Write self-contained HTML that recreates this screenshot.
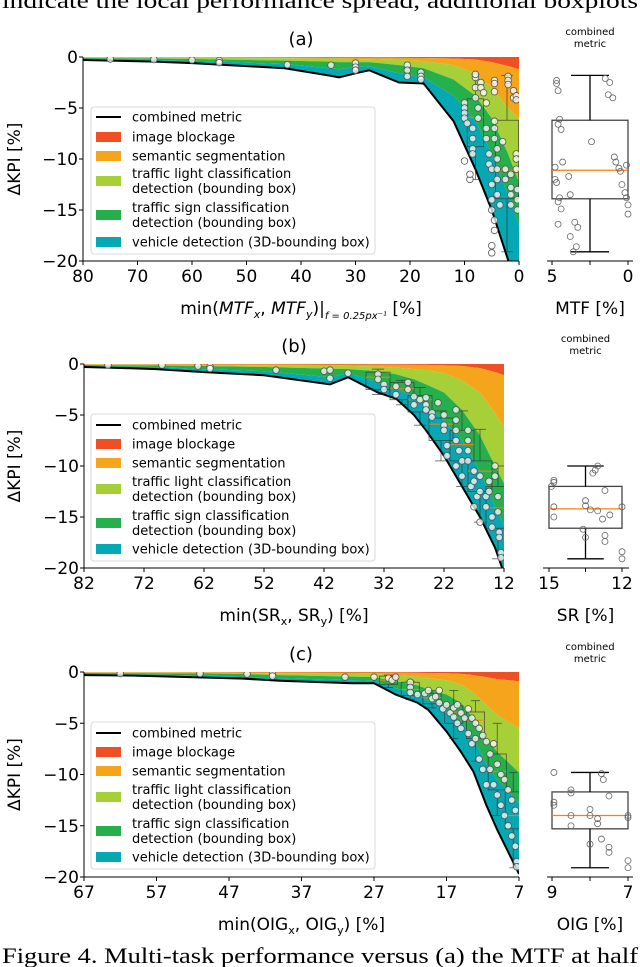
<!DOCTYPE html>
<html><head><meta charset="utf-8">
<style>
html,body{margin:0;padding:0;background:#fff;}
svg{display:block;font-family:"DejaVu Sans","Liberation Sans",sans-serif;}
</style></head>
<body>
<svg id="fig" width="640" height="967" viewBox="0 0 640 967" xmlns="http://www.w3.org/2000/svg">
<text x="2" y="8" font-family="Liberation Serif, serif" font-size="22" textLength="636" lengthAdjust="spacingAndGlyphs">indicate the local performance spread, additional boxplots</text>
<text x="2" y="963" font-family="Liberation Serif, serif" font-size="22" textLength="636" lengthAdjust="spacingAndGlyphs">Figure 4.  Multi-task performance versus (a) the MTF at half</text>
</svg>
<script>
// ---------- Panel A data ----------
const aX = [80,75,67,60,55,43,35,33,30,27.5,22,17.5,12,8,5,2,0];
const aBlock = [-0.02,-0.02,-0.03,-0.03,-0.03,-0.04,-0.05,-0.05,-0.05,-0.05,-0.08,-0.1,-0.15,-0.25,-0.5,-0.9,-1.2];
const aSeg = [-0.06,-0.06,-0.07,-0.08,-0.09,-0.12,-0.15,-0.17,-0.2,-0.22,-0.3,-0.4,-0.8,-1.6,-3,-5,-6.1];
const aLight = [-0.1,-0.12,-0.15,-0.2,-0.25,-0.35,-0.45,-0.5,-0.5,-0.5,-0.8,-1.1,-2.2,-3.8,-6,-9.5,-12.3];
const aSign = [-0.2,-0.22,-0.28,-0.35,-0.45,-0.7,-1.1,-1.2,-1.0,-0.9,-1.6,-2,-3.8,-6.2,-9.5,-13.5,-16.5];
const aCombined = [-0.3,-0.35,-0.45,-0.6,-0.75,-1.1,-1.8,-2.0,-1.6,-1.3,-2.5,-2.6,-6.3,-11,-15,-19.9,-23];
const aPtX = [75,67,60,55,55,42.5,34.5,30,30,30,20.5,20.5,20.5,18,18,18,10,10,10,10,9.5,10,9,9,8,8,8,7.5,7.5,8.5,8.5,8.5,8.5,8,7,7,6.5,6,6,6,5.5,5.5,5,5,5,5,4.5,4.5,5,5,4.5,4.5,4.5,4.5,4.5,4.5,4,4,4,4,4,3.5,3,2.5,2.5,2,2,2,1.5,1.5,1.5,1.5,1,1,0.5,0.5,0.5,0.5,0.5,0.3,0.3,0.3];
const aPtY = [-0.2,-0.25,-0.3,-0.35,-0.55,-0.75,-0.8,-0.6,-1.0,-1.3,-0.8,-1.3,-1.9,-1.5,-1.9,-2.2,-4.5,-5,-5.5,-6,-6.5,-10.2,-12,-11.5,-2,-3,-4,-5,-6,-7,-8,-9,-9.5,-1.7,-2.5,-3,-3.5,-4.5,-7,-8,-9.5,-10.5,-11,-12.5,-14,-15,-16,-17,-18.5,-19.2,-2.3,-2.6,-3.4,-6.3,-7,-8,-9,-10,-11,-12,-13.5,-14.5,-8.3,-11,-12,-1.9,-2.3,-2.7,-11.5,-12.8,-13.5,-14.5,-3.3,-4,-3.8,-4.2,-9.5,-10,-11,-13,-14,-15];
const aBoxX = [8,2.2];
const aBoxW = [3,4.2];
const aBoxQ1 = [-8.8,-13.9];
const aBoxMed = [-5.9,-11.1];
const aBoxQ3 = [-4.1,-6.2];
const aBoxLo = [-12,-19.1];
const aBoxHi = [-1.7,-1.8];
const aSumStats = [-1.8,-6.2,-11.1,-13.9,-19.1];
const aSumPtX = [4.7,4.7,4.6,4.5,4.6,4.4,4.3,4.8,4.7,4.5,4.6,4.4,3.8,3.5,3.3,3.4,3.6,3.8,2.4,1.5,1.2,1.0,1.3,0.9,0.8,0.6,0.5,0.4,0.2,0.1,0,0,0.1,4.8,3.9,4.6];
const aSumPtY = [-2.3,-2.6,-3.3,-6.1,-6.6,-7.1,-10.3,-10.8,-12.3,-13.8,-14.2,-14.9,-13.5,-16.2,-16.7,-18.6,-19.1,-17.6,-8.3,-2.1,-2.5,-4,-3.7,-9.8,-10.3,-10.9,-11.2,-12.5,-13.3,-13.8,-14.5,-15.4,-10.6,-12,-11.7,-16.4];

// ---------- Panel B data ----------
const bX = [82,78,70,62,52,41,38,33,30,27,25,22,19,16,13.5,12];
const bBlock = [-0.03,-0.03,-0.03,-0.04,-0.04,-0.05,-0.05,-0.06,-0.07,-0.08,-0.09,-0.12,-0.2,-0.4,-0.8,-1.1];
const bSeg = [-0.06,-0.07,-0.08,-0.1,-0.12,-0.15,-0.18,-0.25,-0.35,-0.5,-0.6,-0.9,-1.6,-2.8,-4.8,-6.2];
const bLight = [-0.1,-0.12,-0.15,-0.2,-0.3,-0.45,-0.5,-0.7,-1.0,-1.5,-2,-2.8,-4.5,-7,-10,-11.7];
const bSign = [-0.2,-0.22,-0.3,-0.5,-0.7,-1.3,-0.9,-1.8,-2.4,-3.2,-4,-5.5,-7.5,-10.5,-14,-15.8];
const bCombined = [-0.3,-0.35,-0.5,-0.8,-1.1,-2.0,-1.3,-2.8,-3.4,-5,-6.5,-9,-12,-15,-18,-20.5];
const bPtX = [78,69,63,61,61,50,42,41,41,38,33,33,32,32,30,30,28,28,27,27,26,25,25,25,24,24,23,22,22,22,21.5,21.5,20,20,20,20,20,19.5,19,19,18,18,18,18,17.5,17,17,17,16.5,16,16,16,15,15,14.5,14.5,14,14,13.5,13.5,13,13,12.8,12.8,12.5,12.5];
const bPtY = [-0.1,-0.1,-0.2,-0.25,-0.45,-0.6,-0.7,-0.6,-1.4,-0.9,-1,-1.5,-2,-2.5,-2.2,-3,-1.8,-2.5,-3.2,-4,-3.5,-3.3,-4,-4.5,-4.8,-5.2,-3.8,-5,-6,-6.5,-8,-9,-4.5,-5.5,-6.5,-7.5,-10,-8.5,-9.5,-11,-6.5,-7.5,-8.5,-9.5,-12,-10.5,-11.5,-14,-13,-15.5,-11,-12.5,-13,-14,-11.5,-12.5,-15,-16,-10,-11,-13,-14.5,-16.5,-17,-18.5,-19];
const bBoxX = [33,29,26,22.5,19,16,13];
const bBoxW = [4,4,4,4,4,4,4];
const bBoxQ1 = [-2.5,-3.5,-4.7,-7.5,-9.5,-12.5,-16.1];
const bBoxMed = [-1.3,-2.4,-3.5,-5.9,-7.9,-10.5,-14.1];
const bBoxQ3 = [-0.8,-1.8,-3.1,-5.3,-6.5,-9.5,-12];
const bBoxLo = [-3,-4,-6,-9.5,-12,-15.5,-19.1];
const bBoxHi = [-0.5,-1.6,-2.3,-4.6,-4.6,-6.4,-10];
const bSumStats = [-10,-12,-14.2,-16.1,-19.1];
const bSumPtX = [14.8,14.8,14.8,14.8,13.5,13.5,13.6,13.3,13.0,13.1,13.2,13.0,12.8,12.7,12.7,12.7,12.0,12.0,12.0,13.5,12.5,14.9];
const bSumPtY = [-11.4,-11.6,-14,-15,-13.4,-13.9,-16.2,-14.3,-10,-10.4,-10.7,-14.4,-15.2,-16.8,-17.4,-12.4,-14,-18.4,-19.1,-17,-14.8,-12];

// ---------- Panel C data ----------
const cX = [67,60,50,45,40,30,27,24,21,19.5,17,15,13.3,11.5,10,7];
const cBlock = [-0.03,-0.03,-0.03,-0.04,-0.04,-0.05,-0.05,-0.06,-0.08,-0.1,-0.12,-0.18,-0.3,-0.5,-0.7,-0.9];
const cSeg = [-0.06,-0.07,-0.08,-0.1,-0.12,-0.15,-0.18,-0.3,-0.45,-0.6,-0.8,-1.2,-2,-3.2,-4.2,-5.5];
const cLight = [-0.1,-0.12,-0.15,-0.2,-0.3,-0.45,-0.5,-0.9,-1.3,-1.7,-2.2,-3,-4.5,-6.5,-7.8,-9.8];
const cSign = [-0.2,-0.22,-0.35,-0.45,-0.6,-0.8,-0.85,-1.6,-2.2,-2.8,-3.4,-4.8,-6.5,-9,-10.5,-12.8];
const cCombined = [-0.3,-0.35,-0.55,-0.65,-0.85,-1.1,-1.1,-2.2,-3,-3.7,-5.8,-7.8,-9.7,-13,-15.4,-19.7];
const cPtX = [62,51,44.5,41,41,31,27,25,24.5,24,22,22,22,21,20,19.5,19,18.5,18,18,17.5,17,16.5,16,16,15.5,15.5,15,15,14.5,14,14,13.5,13.5,13,13,12.5,12.5,12,12,11.5,11.5,11,11,10.5,10.5,10,10,9.5,9.5,9,9,8.5,8.5,8,8,7.5,7.5,7.3,7.3];
const cPtY = [-0.15,-0.15,-0.2,-0.2,-0.4,-0.5,-0.5,-0.6,-0.8,-0.5,-1,-1.5,-2,-2.2,-2.1,-1.8,-2.6,-2.4,-1.8,-3,-3.6,-3.2,-4,-3.5,-4.4,-3.2,-5,-4,-5.5,-4.5,-3.6,-6,-4.5,-7,-5,-6.5,-5.5,-8.5,-6.2,-9.5,-6.8,-11,-8,-9.5,-7,-11,-9,-12,-10,-13,-10.5,-14,-11.5,-15,-12.5,-16,-13.5,-17,-18.5,-19];
const cBoxX = [25,22,19,16,13,10,7.8];
const cBoxW = [2.5,2.5,2.5,2.5,2.5,2.5,2.2];
const cBoxQ1 = [-1.2,-2.3,-3.1,-5,-6.5,-11.5,-15.3];
const cBoxMed = [-0.8,-1.7,-2.5,-3.9,-4.7,-9.7,-14];
const cBoxQ3 = [-0.4,-1,-2.1,-3.3,-3.9,-8,-11.7];
const cBoxLo = [-1.5,-2.7,-3.5,-6.5,-8.7,-14,-19.1];
const cBoxHi = [-0.3,-0.9,-1.8,-1.8,-2.8,-5,-9.8];
const cSumStats = [-9.8,-11.7,-14,-15.3,-19.1];
const cSumPtX = [8.95,8.95,8.95,8.5,8.5,8.5,8.5,8.0,8.0,7.8,7.8,7.7,7.5,7.5,7.5,7.7,7.65,7.0,7.0,7.0,7.0,8.0];
const cSumPtY = [-9.8,-12.7,-13,-11.5,-11.8,-14,-15,-13.4,-14,-14.3,-14.8,-16.3,-12.1,-17.1,-17.6,-9.9,-10.5,-14,-14.2,-18.4,-19.1,-16.8];

// ---------- drawing ----------
const NS = 'http://www.w3.org/2000/svg';
const svg = document.getElementById('fig');
const COLORS = ['#f04f23','#f5a51c','#a7cf38','#26b04c','#06a8b3'];
function mk(tag, attrs, parent){
  const e = document.createElementNS(NS, tag);
  for (const k in attrs) e.setAttribute(k, attrs[k]);
  (parent||svg).appendChild(e);
  return e;
}
function txt(s, x, y, size, anchor, parent){
  const t = mk('text', {x:x, y:y, 'font-size':size, 'text-anchor':anchor||'start', fill:'#000'}, parent);
  t.textContent = s;
  return t;
}

function panel(id, P){
  const g = mk('g', {});
  
  
  const sx = v => P.x0 + (P.xmax - v) / (P.xmax - P.xmin) * (P.x1 - P.x0);
  const sy = v => P.y0 + (-v) / 20 * (P.y1 - P.y0);
  const clip = mk('clipPath', {id:'clip'+id}, g);
  mk('rect', {x:P.x0, y:P.y0, width:P.x1-P.x0, height:P.y1-P.y0}, clip);
  const plot = mk('g', {'clip-path':'url(#clip'+id+')'}, g);
  
  
  const layers = [P.X.map(()=>0), P.block, P.seg, P.light, P.sign, P.comb];
  const lnames = ['image-blockage-area','semantic-segmentation-area','traffic-light-area','traffic-sign-area','vehicle-detection-area'];
  for (let L=0; L<5; L++){
    const top = layers[L], bot = layers[L+1];
    let pts = P.X.map((x,i)=>sx(x)+','+sy(top[i]));
    for (let i=P.X.length-1;i>=0;i--) pts.push(sx(P.X[i])+','+sy(bot[i]));
    const poly = mk('polygon', {points:pts.join(' '), fill:COLORS[L]}, plot);
    
    
  }
  const line = mk('polyline', {points:P.X.map((x,i)=>sx(x)+','+sy(P.comb[i])).join(' '), fill:'none', stroke:'#000', 'stroke-width':2}, plot);
  
  
  for (let i=0;i<P.bx.length;i++){
    const cx = sx(P.bx[i]), hw = Math.abs(sx(P.bx[i]+P.bw[i]/2)-cx);
    const bg = mk('g', {stroke:'#333', 'stroke-width':0.8, fill:'none', opacity:0.8}, plot);
    
    
    mk('rect', {x:cx-hw, y:sy(P.bq3[i]), width:2*hw, height:sy(P.bq1[i])-sy(P.bq3[i])}, bg);
    mk('line', {x1:cx, x2:cx, y1:sy(P.bhi[i]), y2:sy(P.bq3[i])}, bg);
    mk('line', {x1:cx, x2:cx, y1:sy(P.bq1[i]), y2:sy(P.blo[i])}, bg);
    mk('line', {x1:cx-hw/2, x2:cx+hw/2, y1:sy(P.bhi[i]), y2:sy(P.bhi[i])}, bg);
    mk('line', {x1:cx-hw/2, x2:cx+hw/2, y1:sy(P.blo[i]), y2:sy(P.blo[i])}, bg);
    mk('line', {x1:cx-hw, x2:cx+hw, y1:sy(P.bmed[i]), y2:sy(P.bmed[i]), stroke:'#ff7f0e', 'stroke-width':1.2}, bg);
  }
  for (let i=0;i<P.px.length;i++){
    const c = mk('circle', {cx:sx(P.px[i]), cy:sy(P.py[i]), r:3.3, fill:'#fff', 'fill-opacity':0.75, stroke:'#555', 'stroke-width':0.8}, plot);
    
    
  }
  const ax = mk('g', {stroke:'#000', 'stroke-width':1}, g);
  
  
  mk('line', {x1:P.x0, x2:P.x0, y1:P.y0, y2:P.y1}, ax);
  mk('line', {x1:P.x0, x2:P.x1, y1:P.y1, y2:P.y1}, ax);
  for (const v of [0,-5,-10,-15,-20]){
    mk('line', {x1:P.x0-4, x2:P.x0, y1:sy(v), y2:sy(v)}, ax);
    const t = txt(v===0?'0':'\u2212'+(-v), P.x0-5, sy(v)+6, 17, 'end', g);
    
    
  }
  for (const v of P.xticks){
    mk('line', {x1:sx(v), x2:sx(v), y1:P.y1, y2:P.y1+4}, ax);
    const t = txt(String(v), sx(v), P.y1+21, 17, 'middle', g);
    
    
  }
  const yl = txt('\u0394KPI [%]', 0, 0, 17, 'middle', g);
  yl.setAttribute('transform', 'translate(20,'+((P.y0+P.y1)/2)+') rotate(-90)');
  
  
  const ti = txt(P.title, P.titleX, P.y0-12, 18, 'middle', g);
  
  
  const xl = mk('text', {x:(P.x0+P.x1)/2, y:P.y1+53, 'font-size':17, 'text-anchor':'middle'}, g);
  xl.innerHTML = P.xlabel;
  
  
  const lg = mk('g', {}, g);
  
  
  mk('rect', {x:91, y:P.legY, width:284, height:P.legH, rx:3, fill:'#fff', 'fill-opacity':0.85, stroke:'#d8d8d8', 'stroke-width':1}, lg);
  const rows = P.legRows;
  const labels = [['combined metric'],['image blockage'],['semantic segmentation'],['traffic light classification','detection (bounding box)'],['traffic sign classification','detection (bounding box)'],['vehicle detection (3D-bounding box)']];
  const lnm = ['legend-combined-metric','legend-image-blockage','legend-semantic-segmentation','legend-traffic-light','legend-traffic-sign','legend-vehicle-detection'];
  for (let i=0;i<6;i++){
    const eg = mk('g', {}, lg);
    
    
    const lines = labels[i];
    const yc = P.legY + rows[i];
    if (i===0) mk('line', {x1:96, x2:121, y1:yc, y2:yc, stroke:'#000', 'stroke-width':2}, eg);
    else mk('rect', {x:96, y:yc-5, width:25, height:10, fill:COLORS[i-1]}, eg);
    if (lines.length===1) txt(lines[0], 132, yc+4.5, 13, 'start', eg);
    else { txt(lines[0], 132, yc-3, 13, 'start', eg); txt(lines[1], 132, yc+12, 13, 'start', eg); }
  }
  const S = P.sum;
  const bsx = v => S.x0a + (S.xmax - v)/(S.xmax - S.xmin)*(S.x1a - S.x0a);
  const sg = mk('g', {}, g);
  
  
  const st = P.sumStats, cx = (bsx(S.xmin)+bsx(S.xmax))/2;
  const bl = bsx(S.xmax), br = bsx(S.xmin), cw = (br-bl)*0.25;
  const bxg = mk('g', {stroke:'#000', 'stroke-width':1.3, fill:'none'}, sg);
  mk('rect', {x:bl, y:sy(st[1]), width:br-bl, height:sy(st[3])-sy(st[1]), stroke:'#444'}, bxg);
  mk('line', {x1:cx, x2:cx, y1:sy(st[0]), y2:sy(st[1])}, bxg);
  mk('line', {x1:cx, x2:cx, y1:sy(st[3]), y2:sy(st[4])}, bxg);
  mk('line', {x1:cx-cw, x2:cx+cw, y1:sy(st[0]), y2:sy(st[0])}, bxg);
  mk('line', {x1:cx-cw, x2:cx+cw, y1:sy(st[4]), y2:sy(st[4])}, bxg);
  mk('line', {x1:bl, x2:br, y1:sy(st[2]), y2:sy(st[2]), stroke:'#ff7f0e', 'stroke-width':1.2}, bxg);
  for (let i=0;i<P.spx.length;i++){
    const c = mk('circle', {cx:bsx(P.spx[i]), cy:sy(P.spy[i]), r:3, fill:'none', stroke:'#666', 'stroke-width':0.8}, sg);
    
    
  }
  mk('line', {x1:S.ax0, x2:S.ax1, y1:P.y1, y2:P.y1, stroke:'#000', 'stroke-width':1}, sg);
  for (const v of [S.xmax, (S.xmax+S.xmin)/2, S.xmin]){
    mk('line', {x1:bsx(v), x2:bsx(v), y1:P.y1, y2:P.y1+4, stroke:'#000'}, sg);
  }
  txt(String(S.xmax), bsx(S.xmax), P.y1+21, 17, 'middle', sg);
  txt(String(S.xmin), bsx(S.xmin), P.y1+21, 17, 'middle', sg);
  txt(S.label, cx, P.y1+53, 17, 'middle', sg);
  txt('combined', cx, P.y0-22, 10, 'middle', sg);
  txt('metric', cx, P.y0-10, 10, 'middle', sg);
}

panel('a', {x0:83,x1:519,y0:57,y1:261,xmin:0,xmax:80,xticks:[80,70,60,50,40,30,20,10,0],title:'(a)',titleX:301,
  xlabel:'min(<tspan font-style="italic">MTF</tspan><tspan font-size="11" dy="4" font-style="italic">x</tspan><tspan dy="-4">, </tspan><tspan font-style="italic">MTF</tspan><tspan font-size="11" dy="4" font-style="italic">y</tspan><tspan dy="-4">)|</tspan><tspan font-size="10" dy="5" font-style="italic">f = 0.25px⁻¹</tspan><tspan dy="-5"> [%]</tspan>',
  X:aX,block:aBlock,seg:aSeg,light:aLight,sign:aSign,comb:aCombined,px:aPtX,py:aPtY,
  bx:aBoxX,bw:aBoxW,bq1:aBoxQ1,bmed:aBoxMed,bq3:aBoxQ3,blo:aBoxLo,bhi:aBoxHi,
  legY:107,legH:147,legRows:[10,30,49,74,108,135],
  sum:{x0a:552,x1a:628,xmin:0,xmax:5,ax0:547,ax1:633,label:'MTF [%]'},sumStats:aSumStats,spx:aSumPtX,spy:aSumPtY});
panel('b', {x0:84,x1:504,y0:364,y1:568,xmin:12,xmax:82,xticks:[82,72,62,52,42,32,22,12],title:'(b)',titleX:294,
  xlabel:'min(SR<tspan font-size="11" dy="4">x</tspan><tspan dy="-4">, SR</tspan><tspan font-size="11" dy="4">y</tspan><tspan dy="-4">) [%]</tspan>',
  X:bX,block:bBlock,seg:bSeg,light:bLight,sign:bSign,comb:bCombined,px:bPtX,py:bPtY,
  bx:bBoxX,bw:bBoxW,bq1:bBoxQ1,bmed:bBoxMed,bq3:bBoxQ3,blo:bBoxLo,bhi:bBoxHi,
  legY:414,legH:147,legRows:[11,30,49,75,109,135],
  sum:{x0a:549,x1a:622,xmin:12,xmax:15,ax0:543,ax1:629,label:'SR [%]'},sumStats:bSumStats,spx:bSumPtX,spy:bSumPtY});
panel('c', {x0:84,x1:519,y0:672,y1:877,xmin:7,xmax:67,xticks:[67,57,47,37,27,17,7],title:'(c)',titleX:301,
  xlabel:'min(OIG<tspan font-size="11" dy="4">x</tspan><tspan dy="-4">, OIG</tspan><tspan font-size="11" dy="4">y</tspan><tspan dy="-4">) [%]</tspan>',
  X:cX,block:cBlock,seg:cSeg,light:cLight,sign:cSign,comb:cCombined,px:cPtX,py:cPtY,
  bx:cBoxX,bw:cBoxW,bq1:cBoxQ1,bmed:cBoxMed,bq3:cBoxQ3,blo:cBoxLo,bhi:cBoxHi,
  legY:722,legH:147,legRows:[11,30,49,75,109,135],
  sum:{x0a:552,x1a:628,xmin:7,xmax:9,ax0:547,ax1:633,label:'OIG [%]'},sumStats:cSumStats,spx:cSumPtX,spy:cSumPtY});
</script>
</body></html>
